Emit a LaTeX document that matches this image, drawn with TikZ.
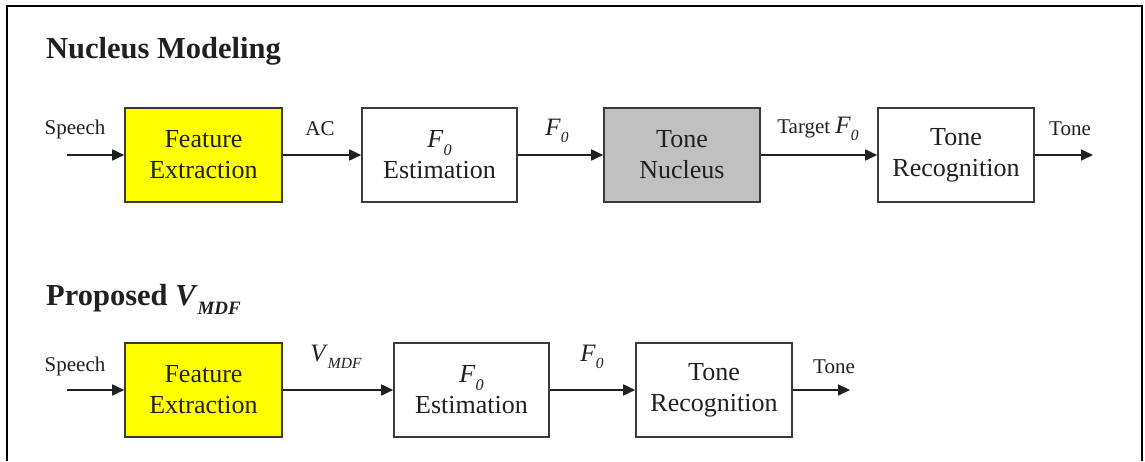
\documentclass[tikz,border=0pt]{standalone}
\usepackage{fontspec}
\setmainfont{Liberation Serif}
\usetikzlibrary{arrows.meta}
\definecolor{boxline}{HTML}{3A3A3A}
\definecolor{txt}{HTML}{202020}
\definecolor{hiyellow}{HTML}{FFFF00}
\definecolor{nucgray}{HTML}{C0C0C0}
% italic symbol with a lowered italic subscript
\newcommand\lowsub[1]{\raisebox{-0.3em}{\fontsize{0.62\dimexpr\fontdimen6\font\relax}{1em}\selectfont\textit{#1}}}
\newcommand\Fzero{\textit{F}\lowsub{0}}
\newcommand\Vmdf{\textit{V}\lowsub{MDF}}
\tikzset{
  blockbox/.style={draw=boxline, line width=1.6pt, fill=white, minimum width=156pt,
    minimum height=94pt, align=center, text=txt, inner sep=0pt,
    font=\fontsize{26}{31}\selectfont},
  flow/.style={line width=1.7pt, draw=txt, -{Triangle[length=12pt,width=11pt]}},
  smalllbl/.style={text=txt, font=\fontsize{21}{24}\selectfont, inner sep=0pt},
  biglbl/.style={text=txt, font=\fontsize{25}{28}\selectfont, inner sep=0pt},
  heading/.style={text=txt, anchor=base west, inner sep=0pt,
    font=\fontsize{30.5}{34}\selectfont\bfseries},
}
\begin{document}
\begin{tikzpicture}[x=1pt,y=1pt]
\useasboundingbox (0,0) rectangle (1145,461);
% open frame (no bottom edge)
\draw[line width=2.6pt, black] (7,0) -- (7,455) -- (1142,455) -- (1142,0);

% ---- Nucleus modeling pipeline ----
\node[heading] (t1) at (46,402) {Nucleus Modeling};
\coordinate (in1) at (67,306);
\coordinate (out1) at (1093,306);
\node[blockbox, fill=hiyellow, minimum width=157pt] (fe1) at (203.5,306) {Feature\\Extraction};
\node[blockbox, minimum width=155pt] (est1) at (439.5,306) {\Fzero\\Estimation};
\node[blockbox, fill=nucgray] (nuc) at (682,306) {Tone\\Nucleus};
\node[blockbox] (rec1) at (956,306) {Tone\\Recognition};
\draw[flow] (in1) -- (fe1);
\draw[flow] (fe1) -- (est1);
\draw[flow] (est1) -- (nuc);
\draw[flow] (nuc) -- (rec1);
\draw[flow] (rec1) -- (out1);
\node[smalllbl] (sp1) at (75,332) {Speech};
\node[smalllbl] (ac) at (320,332) {AC};
\node[biglbl] (f01) at (557,330) {\Fzero};
\node[smalllbl] (tgt) at (818,332) {Target {\fontsize{25}{28}\selectfont\Fzero}};
\node[smalllbl] (tn1) at (1070,332) {Tone};

% ---- Proposed pipeline ----
\node[heading] (t2) at (46,156) {Proposed \Vmdf};
\coordinate (in2) at (67,71);
\coordinate (out2) at (850,71);
\node[blockbox, fill=hiyellow, minimum width=157pt] (fe2) at (203.5,71) {Feature\\Extraction};
\node[blockbox, minimum width=155pt] (est2) at (471.5,71) {\Fzero\\Estimation};
\node[blockbox] (rec2) at (714,71) {Tone\\Recognition};
\draw[flow] (in2) -- (fe2);
\draw[flow] (fe2) -- (est2);
\draw[flow] (est2) -- (rec2);
\draw[flow] (rec2) -- (out2);
\node[smalllbl] (sp2) at (75,95) {Speech};
\node[biglbl] (vm) at (336,104) {\Vmdf};
\node[biglbl] (f02) at (592,104) {\Fzero};
\node[smalllbl] (tn2) at (834,94) {Tone};
\end{tikzpicture}
\end{document}
